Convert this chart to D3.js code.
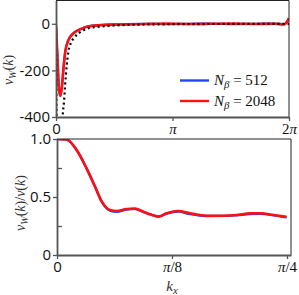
<!DOCTYPE html>
<html>
<head>
<meta charset="utf-8">
<script src="https://cdn.jsdelivr.net/npm/d3@7"></script>
<style>
  body { margin: 0; background: #fff; }
  .tick text { font-family: "Open Sans", sans-serif; font-size: 15px; fill: #111; }
  .math { font-family: "Liberation Serif", "DejaVu Serif", serif; }
</style>
</head>
<body>
<div id="chart"></div>
<script>
// top panel: v_W(k) against k, two N_beta runs and the bare v(k) (dotted)
const topK = [0, 0.04, 0.08, 0.12, 0.16, 0.2, 0.25, 0.33, 0.47, 0.65, 0.86, 1.2, 1.7, 2.4, 3.0, 3.6, 4.2, 4.8, 5.4, 5.9, 6.15, 6.2832];
const vW512 = [-10, -145, -275, -305, -268, -192, -118, -70, -40, -23, -11, -5, -2, 0, -1, 0, 1, -1, 0, 1, -2, 22];
const vW2048 = [-10, -150, -280, -310, -270, -195, -120, -72, -41, -24, -12, -6, -3, -1, 1, -1, 0, 1, -1, 0, -3, 25];
const bareK = [0, 0.098, 0.18, 0.216, 0.243, 0.289, 0.332, 0.396, 0.485, 0.601, 0.736, 0.898, 1.19, 1.5, 2.08, 3.0, 4.0, 5.0, 6.2832];
const vBare = [0, -1600, -400, -335, -270, -178, -121, -84, -61, -42, -28, -18, -12, -8, -4, -2, -1, -0.5, 0];

// bottom panel: ratio v_W(k)/v(k) against k_x
const ratioK = [0, 0.033, 0.067, 0.101, 0.130, 0.153, 0.181, 0.204, 0.238, 0.266, 0.295, 0.318, 0.346, 0.375, 0.414, 0.454, 0.511, 0.568, 0.614, 0.659, 0.693, 0.739, 0.784];
const ratio512 = [1.0, 0.995, 0.905, 0.747, 0.589, 0.46, 0.383, 0.372, 0.392, 0.398, 0.372, 0.35, 0.332, 0.358, 0.374, 0.352, 0.336, 0.337, 0.343, 0.352, 0.355, 0.342, 0.324];
const ratio2048 = [1.0, 0.995, 0.905, 0.747, 0.589, 0.46, 0.388, 0.379, 0.397, 0.40, 0.373, 0.351, 0.33, 0.36, 0.379, 0.36, 0.339, 0.339, 0.345, 0.36, 0.36, 0.345, 0.33];

const seriesNames = ['512', '2048'];
const seriesColors = ['#2244ff', '#ff1010'];

const topTicksX = [0, Math.PI, 2 * Math.PI];
const topTickLabelsX = ['0', 'π', '2π'];
const topTicksY = [0, -200, -400];
const bottomTicksX = [0, Math.PI / 8, Math.PI / 4];
const bottomTickLabelsX = ['0', 'π/8', 'π/4'];
const bottomTicksY = [0, 0.5, 1];
const bottomTickLabelsY = ['0', '0.5', '1.0'];

const width = 299, height = 295;
const svg = d3.select('#chart').append('svg').attr('width', width).attr('height', height);

const zip = (xs, ys) => xs.map((x, i) => [x, ys[i]]);

// math text: pieces [text, italic?, subscript?]
const mathText = (sel, parts) => {
  parts.forEach(([t, it, sub]) => {
    const ts = sel.append('tspan').text(t).attr('font-style', it ? 'italic' : 'normal');
    if (sub) ts.attr('font-size', '0.72em').attr('baseline-shift', '-0.3em');
  });
};
const piLabel = (sel, label) => {
  sel.text(null).attr('class', 'math').style('font-family', '"Liberation Serif", serif').style('font-size', '15px');
  if (label === 'π') mathText(sel, [['π', true]]);
  else if (label === '2π') mathText(sel, [['2', false], ['π', true]]);
  else if (label === 'π/8') mathText(sel, [['π', true], ['/8', false]]);
  else if (label === 'π/4') mathText(sel, [['π', true], ['/4', false]]);
  else sel.text(label);
};

const drawPanel = ({ x, y, clipId }) => {
  const [x0, x1] = x.range();
  const [y0, y1] = y.range();
  svg.append('clipPath').attr('id', clipId)
    .append('rect').attr('x', x0).attr('y', y1).attr('width', x1 - x0).attr('height', y0 - y1);
  return svg.append('g').attr('clip-path', `url(#${clipId})`);
};

const styleAxis = (g) => {
  g.select('.domain').attr('stroke', '#555').attr('stroke-width', 1.8);
  g.selectAll('.tick line').attr('stroke', '#555').attr('stroke-width', 1.3);
};

const frame = (x, y) => {
  const [x0, x1] = x.range();
  const [y0, y1] = y.range();
  svg.append('path')
    .attr('d', `M${x0},${y1}H${x1}V${y0}`)
    .attr('fill', 'none').attr('stroke', '#222').attr('stroke-width', 1);
};

// ---------- top panel ----------
const xTop = d3.scaleLinear().domain([0, 2 * Math.PI]).range([56, 289]);
const yTop = d3.scaleLinear().domain([-400, 100]).range([117, 0.5]);
const topG = drawPanel({ x: xTop, y: yTop, clipId: 'clipTop' });

const lineTop = d3.line().x(d => xTop(d[0])).y(d => yTop(d[1])).curve(d3.curveMonotoneX);

topG.append('path').datum(zip(topK, vW512)).attr('d', lineTop)
  .attr('fill', 'none').attr('stroke', seriesColors[0]).attr('stroke-width', 2.2);
topG.append('path').datum(zip(topK, vW2048)).attr('d', lineTop)
  .attr('fill', 'none').attr('stroke', seriesColors[1]).attr('stroke-width', 2.6);
topG.append('path').datum(zip(bareK, vBare)).attr('d', lineTop)
  .attr('fill', 'none').attr('stroke', '#000').attr('stroke-width', 2.2)
  .attr('stroke-dasharray', '2,3');

frame(xTop, yTop);

svg.append('g').attr('transform', 'translate(56,0)')
  .call(d3.axisLeft(yTop).tickValues(topTicksY).tickSize(4).tickSizeOuter(0).tickPadding(2).tickFormat(d3.format('d')))
  .call(styleAxis)
  .call(g => g.selectAll('.tick text').text(d => String(d)));

svg.append('g').attr('transform', 'translate(0,117)')
  .call(d3.axisBottom(xTop).tickValues(topTicksX).tickSize(4).tickSizeOuter(0).tickPadding(2)
    .tickFormat((d, i) => topTickLabelsX[i]))
  .call(styleAxis)
  .call(g => g.selectAll('.tick text').each(function (d, i) {
    if (i > 0) piLabel(d3.select(this), topTickLabelsX[i]);
  }));

// legend
const legend = svg.append('g');
seriesNames.forEach((n, i) => {
  const ly = 80.5 + i * 20.5;
  legend.append('line').attr('x1', 180).attr('x2', 209).attr('y1', ly).attr('y2', ly)
    .attr('stroke', seriesColors[i]).attr('stroke-width', 2.4);
  const t = legend.append('text').attr('x', 214).attr('y', ly + 4.5)
    .attr('class', 'math').attr('font-size', 15).attr('fill', '#111');
  mathText(t, [['N', true], ['β', true, true], [' = ' + n, false]]);
});

// y label
const yl1 = svg.append('text').attr('class', 'math').attr('font-size', 14).attr('fill', '#333')
  .attr('text-anchor', 'middle').attr('transform', 'translate(13,70) rotate(-90)');
mathText(yl1, [['v', true], ['W', true, true], ['(', false], ['k', true], [')', false]]);

// ---------- bottom panel ----------
const xBot = d3.scaleLinear().domain([0, Math.PI / 4 * 234 / 230]).range([57, 291]);
const yBot = d3.scaleLinear().domain([0, 1]).range([255, 139]);
const botG = drawPanel({ x: xBot, y: yBot, clipId: 'clipBot' });

const lineBot = d3.line().x(d => xBot(d[0])).y(d => yBot(d[1])).curve(d3.curveMonotoneX);
botG.append('path').datum(zip(ratioK, ratio512)).attr('d', lineBot)
  .attr('fill', 'none').attr('stroke', seriesColors[0]).attr('stroke-width', 2.4);
botG.append('path').datum(zip(ratioK, ratio2048)).attr('d', lineBot)
  .attr('fill', 'none').attr('stroke', seriesColors[1]).attr('stroke-width', 2.6);

frame(xBot, yBot);

svg.append('g').attr('transform', 'translate(57,0)')
  .call(d3.axisLeft(yBot).tickValues(bottomTicksY).tickSize(4).tickSizeOuter(0).tickPadding(2)
    .tickFormat((d, i) => bottomTickLabelsY[i]))
  .call(styleAxis);
// minor ticks, pointing inward
svg.append('g').attr('transform', 'translate(57,0)')
  .call(d3.axisRight(yBot).tickValues([0.25, 0.75]).tickSize(5).tickSizeOuter(0).tickFormat(''))
  .call(g => g.select('.domain').remove())
  .call(g => g.selectAll('.tick line').attr('stroke', '#555').attr('stroke-width', 1.3));

svg.append('g').attr('transform', 'translate(0,255)')
  .call(d3.axisBottom(xBot).tickValues(bottomTicksX).tickSize(4).tickSizeOuter(0).tickPadding(2)
    .tickFormat((d, i) => bottomTickLabelsX[i]))
  .call(styleAxis)
  .call(g => g.selectAll('.tick text').each(function (d, i) {
    if (i > 0) piLabel(d3.select(this), bottomTickLabelsX[i]);
  }));

const yl2 = svg.append('text').attr('class', 'math').attr('font-size', 14).attr('fill', '#333')
  .attr('text-anchor', 'middle').attr('transform', 'translate(25,203) rotate(-90)');
mathText(yl2, [['v', true], ['W', true, true], ['(', false], ['k', true], [')/', false], ['v', true], ['(', false], ['k', true], [')', false]]);

const xl = svg.append('text').attr('class', 'math').attr('font-size', 15).attr('fill', '#333')
  .attr('text-anchor', 'middle').attr('x', 172).attr('y', 291);
mathText(xl, [['k', true], ['x', true, true]]);
</script>
</body>
</html>
